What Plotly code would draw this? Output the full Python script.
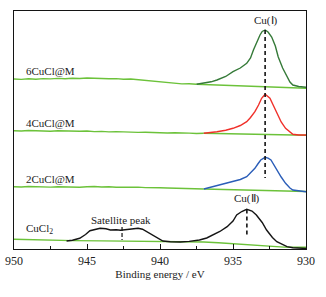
import plotly.graph_objects as go

# ---------------- data ----------------
# 6CuCl@M
base6_x = [950, 949.5, 949, 948.5, 948, 947.5, 947, 946.5, 946, 945.5, 945, 944.5, 944, 943.5,
           943, 942.5, 942, 941.5, 941, 940.5, 940, 939.5, 939, 938.5, 938, 937.5]
base6_y = [170.0, 169.6, 170.3, 169.8, 170.4, 170.1, 170.6, 170.2, 170.8, 170.5, 171.0, 170.6, 170.9, 170.2,
           170.4, 169.8, 170.0, 169.2, 168.9, 168.0, 167.4, 166.2, 165.9, 165.1, 165.3, 164.7]
peak6_x = [937.5, 937.0, 936.5, 936.1, 935.5, 935.0, 934.5, 934.06, 933.8, 933.6, 933.4, 933.15,
           933.0, 932.8, 932.6, 932.35, 932.1, 931.9, 931.6, 931.3, 931.1, 930.9, 930.5, 930.0]
peak6_y = [164.7, 165.8, 167.2, 169.0, 172.5, 177.3, 181.0, 185.7, 191.0, 199.0, 206.0, 214.0,
           217.5, 219.0, 217.0, 212.0, 203.0, 192.0, 181.0, 172.0, 167.0, 164.0, 162.5, 161.7]
bg6_x = [937.5, 935.0, 932.8, 930.0]
bg6_y = [164.7, 163.5, 162.3, 160.8]

# 4CuCl@M
base4_x = [950, 949.5, 949, 948.5, 948, 947.5, 947, 946.5, 946, 945.5, 945, 944.5, 944, 943.5,
           943, 942.5, 942, 941.5, 941, 940.5, 940, 939.5, 939, 938.5, 938, 937.5, 937]
base4_y = [118.3, 118.0, 118.5, 118.1, 118.4, 117.8, 118.2, 117.9, 118.3, 117.7, 118.0, 117.4, 117.6, 117.1,
           117.4, 116.9, 117.1, 116.6, 116.8, 116.3, 116.5, 116.0, 116.2, 115.7, 115.9, 115.5, 115.7]
peak4_x = [937.0, 936.5, 936.1, 935.5, 935.0, 934.5, 934.06, 933.8, 933.5, 933.25, 933.04, 932.8,
           932.6, 932.47, 932.25, 932.0, 931.7, 931.4, 931.1, 930.9, 930.5, 930.0]
peak4_y = [115.7, 116.4, 117.3, 118.8, 120.7, 123.5, 127.3, 131.5, 137.3, 144.0, 150.7, 154.7,
           152.5, 150.7, 144.0, 135.7, 127.0, 120.7, 116.5, 114.7, 114.0, 114.0]
bg4_x = [937.0, 932.8, 930.0]
bg4_y = [115.7, 114.5, 113.7]

# 2CuCl@M
base2_x = [950, 949.5, 949, 948.5, 948, 947.5, 947, 946.5, 946, 945.5, 945, 944.5, 944, 943.5,
           943, 942.5, 942, 941.5, 941, 940.5, 940, 939.5, 939, 938.5, 938, 937.5, 937]
base2_y = [62.3, 62.0, 62.5, 62.1, 62.4, 61.9, 62.3, 62.0, 62.4, 61.8, 62.2, 62.5, 62.0, 62.3,
           61.7, 62.0, 61.6, 61.9, 61.4, 61.6, 61.2, 61.0, 60.8, 60.5, 60.6, 60.2, 60.0]
peak2_x = [937.0, 936.5, 936.0, 935.5, 935.0, 934.5, 934.06, 933.8, 933.5, 933.3, 933.1, 932.8,
           932.6, 932.4, 932.2, 932.0, 931.7, 931.4, 931.1, 930.9, 930.5, 930.0]
peak2_y = [60.0, 62.0, 64.0, 65.5, 67.3, 69.5, 72.3, 76.0, 80.7, 85.0, 89.0, 91.7,
           90.8, 89.0, 84.0, 79.0, 72.0, 65.7, 61.0, 59.0, 58.0, 57.3]
bg2_x = [937.0, 930.0]
bg2_y = [60.0, 57.5]

# CuCl2
base0_x = [950, 949.5, 949, 948.5, 948, 947.5, 947, 946.5, 946, 944, 942, 940, 938, 937, 936,
           935, 934, 933, 932, 931.5, 931, 930.5, 930]
base0_y = [9.7, 9.5, 9.8, 9.3, 9.4, 9.0, 9.2, 8.6, 8.4, 8.1, 7.9, 7.6, 7.3, 7.0, 6.3,
           5.2, 4.0, 3.0, 2.2, 1.9, 1.8, 1.7, 1.7]
peak0_x = [946.4, 946.0, 945.5, 945.1, 944.8, 944.4, 944.1, 943.7, 943.4, 943.0, 942.7, 942.4,
           942.05, 941.8, 941.5, 941.2, 940.9, 940.6, 940.3, 940.0, 939.8, 939.3, 938.6, 938.0,
           937.3, 936.8, 936.35, 935.9, 935.4, 935.0, 934.75, 934.4, 934.06, 933.7, 933.4, 933.0,
           932.7, 932.3, 932.0, 931.6, 931.3, 930.9, 930.4, 930.0]
peak0_y = [8.0, 8.8, 10.7, 14.5, 18.3, 20.0, 20.7, 20.2, 19.0, 19.3, 18.7, 19.2,
           19.7, 20.3, 20.7, 19.8, 17.3, 14.5, 11.7, 9.5, 8.0, 7.3, 7.0, 7.6,
           9.0, 11.0, 14.0, 17.5, 22.3, 28.0, 34.0, 37.5, 39.7, 38.0, 34.0, 26.5,
           19.0, 11.5, 7.3, 4.0, 2.3, 1.3, 0.7, 0.5]

# marker lines
cu1_x = [932.8, 932.8]
cu1_y = [219.0, 71.0]
cu2_x = [934.05, 934.05]
cu2_y = [39.5, 14.0]
sat_x = [942.6, 942.6]
sat_y = [22.0, 9.0]

X_RANGE = [950, 930]
Y_RANGE = [0, 238]
tick_vals = [950, 945, 940, 935, 930]
tick_text = ["950", "945", "940", "935", "930"]

labels = ["6CuCl@M", "4CuCl@M", "2CuCl@M", "CuCl<sub>2</sub>"]
label_y = [178, 126, 70, 20]

LIGHT = "#6cc23a"
INK = "#141414"
FONT = "Liberation Serif"

fig = go.Figure()

def line(x, y, color, width=1.4, dash=None):
    fig.add_trace(go.Scatter(x=x, y=y, mode="lines",
                             line=dict(color=color, width=width, dash=dash),
                             hoverinfo="skip"))

line(base6_x, base6_y, LIGHT)
line(bg6_x, bg6_y, LIGHT)
line(peak6_x, peak6_y, "#357a38")
line(base4_x, base4_y, LIGHT)
line(bg4_x, bg4_y, LIGHT)
line(peak4_x, peak4_y, "#f0302a")
line(base2_x, base2_y, LIGHT)
line(bg2_x, bg2_y, LIGHT)
line(peak2_x, peak2_y, "#2a5db8")
line(base0_x, base0_y, LIGHT)
line(peak0_x, peak0_y, INK)

line(cu1_x, cu1_y, INK, 1.6, "4px,3px")
line(cu2_x, cu2_y, INK, 1.6, "4px,3px")
line(sat_x, sat_y, INK, 1.2, "4px,2px")

for t, yy in zip(labels, label_y):
    fig.add_annotation(x=949.3, y=yy, text=t, showarrow=False, xanchor="left",
                       yanchor="middle", font=dict(family=FONT, size=11, color="#222"))

fig.add_annotation(x=932.75, y=229, text="Cu(Ⅰ)", showarrow=False,
                   font=dict(family=FONT, size=11, color="#222"))
fig.add_annotation(x=934.04, y=51, text="Cu(Ⅱ)", showarrow=False,
                   font=dict(family=FONT, size=11, color="#222"))
fig.add_annotation(x=942.7, y=29, text="Satellite peak", showarrow=False,
                   font=dict(family=FONT, size=11, color="#222"))

fig.update_layout(
    width=326, height=297,
    margin=dict(l=14, r=20, t=11, b=48, autoexpand=False),
    paper_bgcolor="white", plot_bgcolor="white",
    showlegend=False,
    font=dict(family=FONT, color="#222"),
    xaxis=dict(range=X_RANGE, tickmode="linear", tick0=930, dtick=5,
               ticks="inside", ticklen=5, tickwidth=1.3, tickcolor=INK,
               minor=dict(ticks="inside", dtick=2.5, ticklen=3, tickwidth=1.3, tickcolor=INK),
               showline=True, mirror=True, linecolor=INK, linewidth=1.4,
               automargin=False, showgrid=False, zeroline=False,
               tickfont=dict(family=FONT, size=12, color="#222"),
               title=dict(text="Binding energy / eV", standoff=3,
                          font=dict(family=FONT, size=11, color="#222"))),
    yaxis=dict(range=Y_RANGE, showticklabels=False, ticks="", automargin=False,
               showline=True, mirror=True, linecolor=INK, linewidth=1.4,
               showgrid=False, zeroline=False),
)

fig.write_html("out.html", config={"displayModeBar": False},
               post_script="document.body.style.margin='0';")
